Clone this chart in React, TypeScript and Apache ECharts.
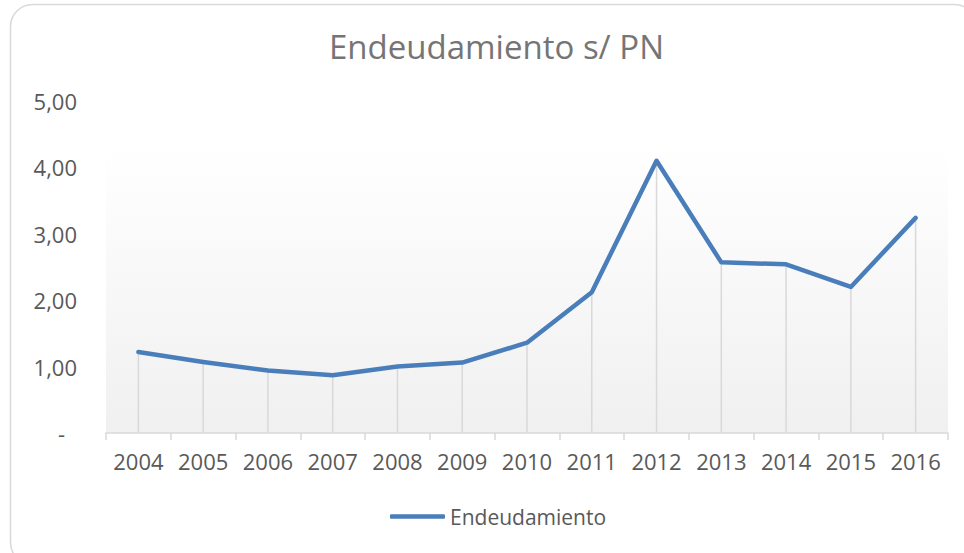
import React, { useEffect, useRef } from "react";
import * as echarts from "echarts";

const years = ["2004", "2005", "2006", "2007", "2008", "2009", "2010", "2011", "2012", "2013", "2014", "2015", "2016"];
const endeudamiento = [1.22, 1.07, 0.94, 0.87, 1.0, 1.06, 1.36, 2.12, 4.1, 2.57, 2.54, 2.2, 3.24];
const yTicks = [0, 1, 2, 3, 4, 5];
const seriesName = "Endeudamiento";
const titleText = "Endeudamiento s/ PN";

const FONT = "'Open Sans', 'Liberation Sans', sans-serif";

export default function App() {
  const ref = useRef<HTMLDivElement>(null);
  useEffect(() => {
    if (!ref.current) return;
    const chart = echarts.init(ref.current, undefined, { renderer: "svg" });
    chart.setOption({
      animation: false,
      backgroundColor: "#ffffff",
      title: {
        text: titleText,
        left: 324,
        top: 25,
        textStyle: { fontFamily: FONT, fontSize: 33, fontWeight: "normal", color: "#757575" },
      },
      graphic: [
        {
          type: "rect",
          shape: { x: 10.5, y: 4.5, width: 966, height: 560, r: 22 },
          style: { fill: "none", stroke: "#d9d9d9", lineWidth: 1.5 },
          silent: true,
          z: 100,
        },
      ],
      legend: {
        data: [{ name: seriesName, icon: "roundRect" }],
        bottom: 26,
        left: 390,
        padding: 0,
        itemWidth: 55,
        itemHeight: 4.5,
        textStyle: { fontFamily: FONT, fontSize: 21, color: "#595959" },
      },
      grid: {
        left: 106,
        right: 16,
        top: 101,
        bottom: 120,
        show: true,
        borderWidth: 0,
        backgroundColor: {
          type: "linear",
          x: 0,
          y: 0,
          x2: 0,
          y2: 1,
          colorStops: [
            { offset: 0, color: "#ffffff" },
            { offset: 0.14, color: "#ffffff" },
            { offset: 1, color: "#f0f0f0" },
          ],
        },
      },
      xAxis: {
        type: "category",
        data: years,
        boundaryGap: true,
        axisLine: { show: true, lineStyle: { color: "#d9d9d9", width: 1.5 } },
        axisTick: { show: true, length: 7, interval: 0, lineStyle: { color: "#d9d9d9", width: 1.5 } },
        axisLabel: { fontFamily: FONT, fontSize: 22, color: "#595959", margin: 17, interval: 0 },
        splitLine: { show: false },
      },
      yAxis: {
        type: "value",
        min: yTicks[0],
        max: yTicks[yTicks.length - 1],
        interval: 1,
        axisLine: { show: false },
        axisTick: { show: false },
        splitLine: { show: false },
        axisLabel: {
          fontFamily: FONT,
          fontSize: 22,
          color: "#595959",
          margin: 29,
          formatter: (v: number) => (v === 0 ? "{d|-}" : v.toFixed(2).replace(".", ",")),
          rich: {
            d: { fontFamily: FONT, fontSize: 22, color: "#595959", padding: [0, 12, 0, 0] },
          },
        },
      },
      series: [
        {
          name: "drop",
          type: "bar",
          data: endeudamiento,
          barWidth: 1.5,
          itemStyle: { color: "#d9d9d9" },
          silent: true,
          z: 1,
        },
        {
          name: seriesName,
          type: "line",
          data: endeudamiento,
          symbol: "none",
          lineStyle: { color: "#4a7ebb", width: 4.5, cap: "round", join: "round" },
          itemStyle: { color: "#4a7ebb" },
          z: 3,
        },
      ],
    });
    return () => chart.dispose();
  }, []);
  return (
    <div
      ref={ref}
      style={{ position: "fixed", left: 0, top: 0, width: 964, height: 553 }}
    />
  );
}
